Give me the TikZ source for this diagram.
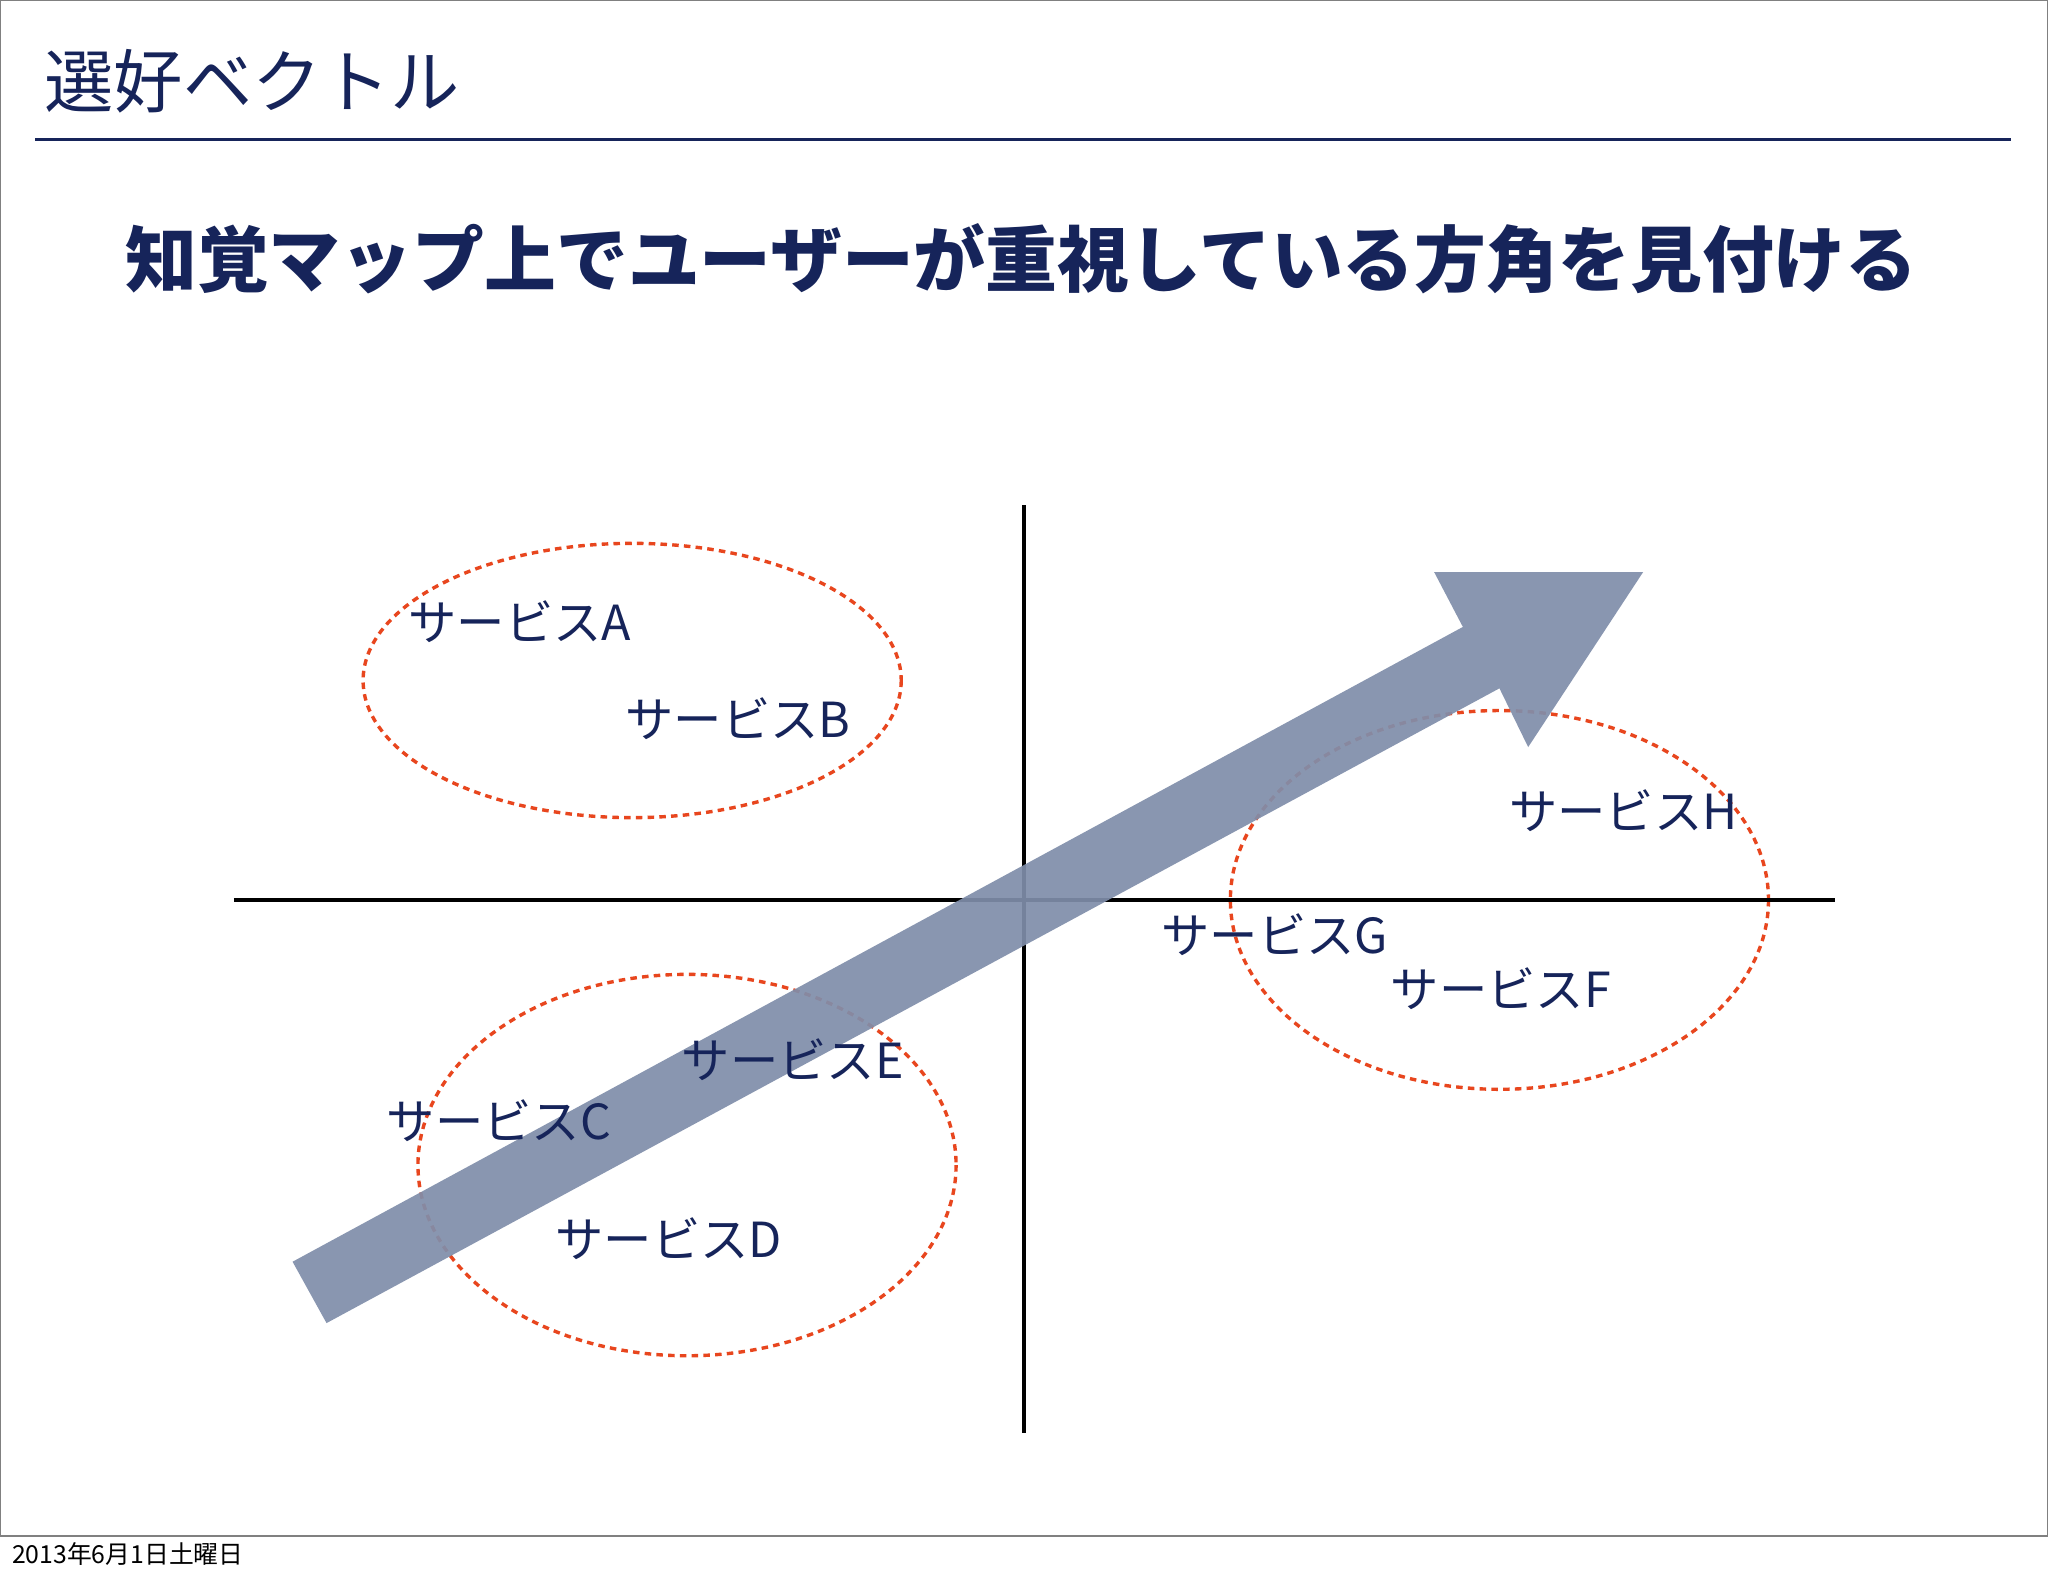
\documentclass[tikz,border=0pt]{standalone}
\usepackage{fontspec}
\setmainfont{Liberation Sans}
\newfontfamily\cjk{Noto Sans CJK JP}
\definecolor{navy}{RGB}{22,36,90}
\definecolor{arrowc}{RGB}{128,142,170}
\definecolor{ellc}{RGB}{232,70,30}
\tikzset{lbl/.style={font=\cjk\fontsize{37}{42}\selectfont,text=navy,inner sep=0pt},
ell/.style={draw=ellc,dashed,line width=2.6pt,dash pattern=on 5pt off 4pt}}
\begin{document}
\begin{tikzpicture}[x=1pt,y=-1pt]
\useasboundingbox (0,0) rectangle (1568,1206);
\fill[white] (0,0) rectangle (1568,1206);
\draw[gray,line width=1pt] (0.5,0.5) rectangle (1567.5,1176);
\node[anchor=west,inner sep=0pt,text=navy,font=\cjk\fontsize{53}{60}\selectfont] (title) at (34,62) {選好ベクトル};
\draw[navy,line width=2pt] (27,107) -- (1540,107);
\node[inner sep=0pt,text=navy,font=\cjk\bfseries\fontsize{55}{62}\selectfont] (head) at (782,198) {知覚マップ上でユーザーが重視している方角を見付ける};
\draw[ell] (484,521) ellipse [x radius=206,y radius=105];
\draw[ell] (526,892) ellipse [x radius=206,y radius=146];
\draw[ell] (1148,689) ellipse [x radius=206,y radius=145];
\draw[line width=2.5pt] (784,387) -- (784,1097);
\draw[line width=2.5pt] (179,689) -- (1405,689);
\fill[arrowc,fill opacity=0.92] (224,966) -- (1120,480) -- (1098,438) -- (1258,438) -- (1170,572) -- (1148,527) -- (250,1013) -- cycle;
\node[lbl] (A) at (398,476) {サービスA};
\node[lbl] (B) at (565,550) {サービスB};
\node[lbl] (C) at (382,858) {サービスC};
\node[lbl] (D) at (512,948) {サービスD};
\node[lbl] (E) at (607,811) {サービスE};
\node[lbl] (G) at (976,716) {サービスG};
\node[lbl] (F) at (1149,757) {サービスF};
\node[lbl] (H) at (1243,621) {サービスH};
\node[anchor=west,inner sep=0pt,font=\cjk\fontsize{19}{22}\selectfont] (foot) at (9,1190) {2013年6月1日土曜日};
\end{tikzpicture}
\end{document}
